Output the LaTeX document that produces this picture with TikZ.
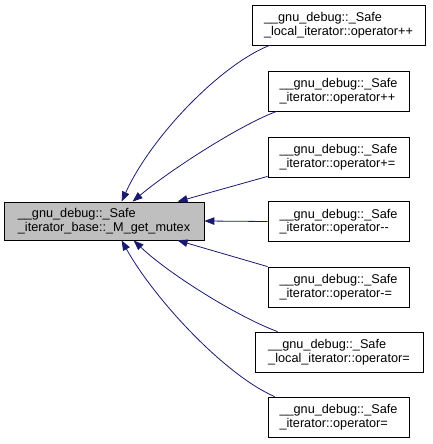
\documentclass[tikz,border=0pt]{standalone}
\usepackage{fontspec}
\setmainfont{Liberation Sans}
\usetikzlibrary{arrows.meta}
\definecolor{edgecol}{HTML}{191970}
\definecolor{boxgray}{HTML}{BFBFBF}
\tikzset{
  fnbox/.style={draw=black, line width=0.8pt, fill=white, inner sep=0pt, align=left,
    font=\fontsize{12.7}{13.5}\selectfont, minimum height=40pt},
  mainbox/.style={fnbox, fill=boxgray, minimum width=200pt, minimum height=38pt},
  edgeline/.style={draw=edgecol, line width=0.8pt, -{Triangle[length=10pt,width=7.5pt]}}
}
\begin{document}
\begin{tikzpicture}[x=1pt,y=-1pt]
\useasboundingbox (0,0) rectangle (432,444);
\node[mainbox] (m) at (104,221) {\_\_gnu\_debug::\_Safe\\\_iterator\_base::\_M\_get\_mutex};
\node[fnbox, minimum width=173pt] (n1) at (338.5,25) {\_\_gnu\_debug::\_Safe\\\_local\_iterator::operator++};
\node[fnbox, minimum width=141pt] (n2) at (338.5,91) {\_\_gnu\_debug::\_Safe\\\_iterator::operator++};
\node[fnbox, minimum width=141pt] (n3) at (338.5,157) {\_\_gnu\_debug::\_Safe\\\_iterator::operator+=};
\node[fnbox, minimum width=141pt] (n4) at (338.5,221.5) {\_\_gnu\_debug::\_Safe\\\_iterator::operator-{}-};
\node[fnbox, minimum width=141pt] (n5) at (338.5,287) {\_\_gnu\_debug::\_Safe\\\_iterator::operator-=};
\node[fnbox, minimum width=168pt] (n6) at (339,352) {\_\_gnu\_debug::\_Safe\\\_local\_iterator::operator=};
\node[fnbox, minimum width=141pt] (n7) at (338.5,417) {\_\_gnu\_debug::\_Safe\\\_iterator::operator=};

\draw[edgeline] ([xshift=18pt]n1.south west) .. controls (222,64) and (152,135) .. ([xshift=118pt]m.north west);
\draw[edgeline] ([xshift=9pt]n2.south west) .. controls (240,125) and (170,170) .. ([xshift=129pt]m.north west);
\draw[edgeline] ([yshift=1pt]n3.south west) -- ([xshift=174pt]m.north west);
\draw[edgeline] (n4.west) -- (m.east);
\draw[edgeline] (n5.north west) -- ([xshift=174pt]m.south west);
\draw[edgeline] ([xshift=23pt]n6.north west) .. controls (240,318) and (170,275) .. ([xshift=130pt]m.south west);
\draw[edgeline] ([xshift=7pt]n7.north west) .. controls (225,375) and (155,300) .. ([xshift=118pt]m.south west);
\end{tikzpicture}
\end{document}
